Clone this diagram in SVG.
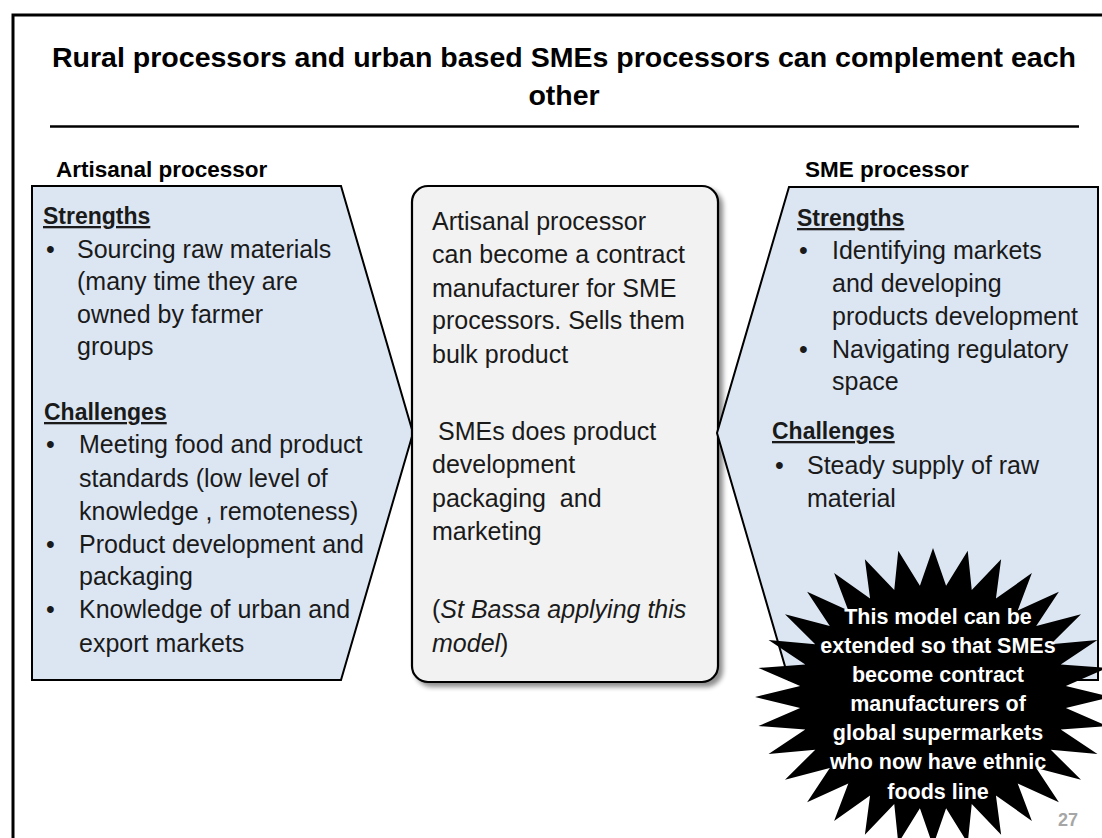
<svg xmlns="http://www.w3.org/2000/svg" width="1102" height="838" viewBox="0 0 1102 838">
  <defs>
    <filter id="softShadow" x="-10%" y="-10%" width="130%" height="130%">
      <feGaussianBlur in="SourceAlpha" stdDeviation="2.5"/>
      <feOffset dx="4" dy="4" result="off"/>
      <feComponentTransfer><feFuncA type="linear" slope="0.45"/></feComponentTransfer>
      <feMerge><feMergeNode/><feMergeNode in="SourceGraphic"/></feMerge>
    </filter>
  </defs>
  <style>
    text { font-family: "Liberation Sans", Arial, sans-serif; fill: #1a1a1a; }
    .title { font-size: 28.5px; font-weight: bold; fill: #000; }
    .side { font-size: 22.5px; font-weight: bold; fill: #000; }
    .body { font-size: 25px; }
    .head { font-size: 23px; font-weight: bold; text-decoration: underline; }
    .panel { fill: #dce6f2; stroke: #000; stroke-width: 2; stroke-linejoin: miter; }
    .card { fill: #f2f2f2; stroke: #000; stroke-width: 2.2; }
    .burst { fill: #000; }
    .burst-text { font-size: 21.5px; font-weight: bold; fill: #fff; text-anchor: middle; }
    .num { font-size: 18px; font-weight: bold; fill: #a6a6a6; }
    .frame { fill: none; stroke: #000; stroke-width: 3; }
  </style>

  <rect width="1102" height="838" fill="#fff"/>

  <!-- slide frame (top and left edges) -->
  <g id="frame">
    <path class="frame" d="M13,838 V15 H1102"/>
  </g>

  <!-- heading and rule -->
  <g id="title">
    <text class="title" x="564" y="67" text-anchor="middle" textLength="1024" lengthAdjust="spacingAndGlyphs">Rural processors and urban based SMEs processors can complement each</text>
    <text class="title" x="564" y="105" text-anchor="middle">other</text>
    <line x1="50" y1="126.5" x2="1079" y2="126.5" stroke="#000" stroke-width="2.5"/>
  </g>

  <!-- left panel: artisanal processor -->
  <g id="artisanal">
    <text class="side" x="56" y="177">Artisanal processor</text>
    <polygon class="panel" points="32,186 341,186 413,433 341,680 32,680"/>
    <text class="head" x="43" y="224">Strengths</text>
    <g class="body">
      <text x="46" y="258">•</text>
      <text x="77" y="258">Sourcing raw materials</text>
      <text x="77" y="290">(many time they are</text>
      <text x="77" y="323">owned by farmer</text>
      <text x="77" y="355">groups</text>
    </g>
    <text class="head" x="44" y="420">Challenges</text>
    <g class="body">
      <text x="46" y="453">•</text>
      <text x="79" y="453">Meeting food and product</text>
      <text x="79" y="487">standards (low level of</text>
      <text x="79" y="520">knowledge , remoteness)</text>
      <text x="46" y="553">•</text>
      <text x="79" y="553">Product development and</text>
      <text x="79" y="585">packaging</text>
      <text x="46" y="618">•</text>
      <text x="79" y="618">Knowledge of urban and</text>
      <text x="79" y="652">export markets</text>
    </g>
  </g>

  <!-- centre card: how the two complement each other -->
  <g id="complement">
    <rect class="card" x="412" y="186" width="306" height="496" rx="16" filter="url(#softShadow)"/>
    <g class="body">
      <text x="432" y="230">Artisanal processor</text>
      <text x="432" y="263">can become a contract</text>
      <text x="432" y="297">manufacturer for SME</text>
      <text x="432" y="329">processors. Sells them</text>
      <text x="432" y="363">bulk product</text>
      <text x="438" y="440">SMEs does product</text>
      <text x="432" y="473">development</text>
      <text x="432" y="507" xml:space="preserve">packaging  and</text>
      <text x="432" y="540">marketing</text>
      <text x="432" y="618">(<tspan font-style="italic">St Bassa applying this</tspan></text>
      <text x="432" y="652"><tspan font-style="italic">model</tspan>)</text>
    </g>
  </g>

  <!-- right panel: SME processor -->
  <g id="sme">
    <text class="side" x="805" y="177">SME processor</text>
    <polygon class="panel" points="789,187 1098,187 1098,680 789,680 717,433"/>
    <text class="head" x="797" y="226">Strengths</text>
    <g class="body">
      <text x="799" y="259">•</text>
      <text x="832" y="259">Identifying markets</text>
      <text x="832" y="292">and developing</text>
      <text x="832" y="325">products development</text>
      <text x="799" y="358">•</text>
      <text x="832" y="358">Navigating regulatory</text>
      <text x="832" y="390">space</text>
    </g>
    <text class="head" x="772" y="439">Challenges</text>
    <g class="body">
      <text x="775" y="474">•</text>
      <text x="807" y="474">Steady supply of raw</text>
      <text x="807" y="507">material</text>
    </g>
  </g>

  <!-- 32-point callout star -->
  <g id="callout">
    <polygon class="burst" points="933,548 946.09,585.79 967.73,550.86 971.75,590.06 1001.12,559.34 995.93,598.45 1031.89,573.11 1017.69,610.62 1058.87,591.64 1036.2,626.11 1081,614.22 1050.74,644.32 1097.45,639.98 1060.75,664.56 1107.58,667.93 1065.86,686.05 1111,697 1065.86,707.95 1107.58,726.07 1060.75,729.44 1097.45,754.02 1050.74,749.68 1081,779.78 1036.2,767.89 1058.87,802.36 1017.69,783.38 1031.89,820.89 995.93,795.55 1001.12,834.66 971.75,803.94 967.73,843.14 946.09,808.21 933,846 919.91,808.21 898.27,843.14 894.25,803.94 864.88,834.66 870.07,795.55 834.11,820.89 848.31,783.38 807.13,802.36 829.8,767.89 785,779.78 815.26,749.68 768.55,754.02 805.25,729.44 758.42,726.07 800.14,707.95 755,697 800.14,686.05 758.42,667.93 805.25,664.56 768.55,639.98 815.26,644.32 785,614.22 829.8,626.11 807.13,591.64 848.31,610.62 834.11,573.11 870.07,598.45 864.88,559.34 894.25,590.06 898.27,550.86 919.91,585.79"/>
    <text class="burst-text" x="938" y="624">This model can be</text>
    <text class="burst-text" x="938" y="653">extended so that SMEs</text>
    <text class="burst-text" x="938" y="682">become contract</text>
    <text class="burst-text" x="938" y="711">manufacturers of</text>
    <text class="burst-text" x="938" y="740">global supermarkets</text>
    <text class="burst-text" x="938" y="769">who now have ethnic</text>
    <text class="burst-text" x="938" y="799">foods line</text>
  </g>

  <!-- slide number -->
  <g id="page-number">
    <text class="num" x="1058" y="826">27</text>
  </g>
</svg>
